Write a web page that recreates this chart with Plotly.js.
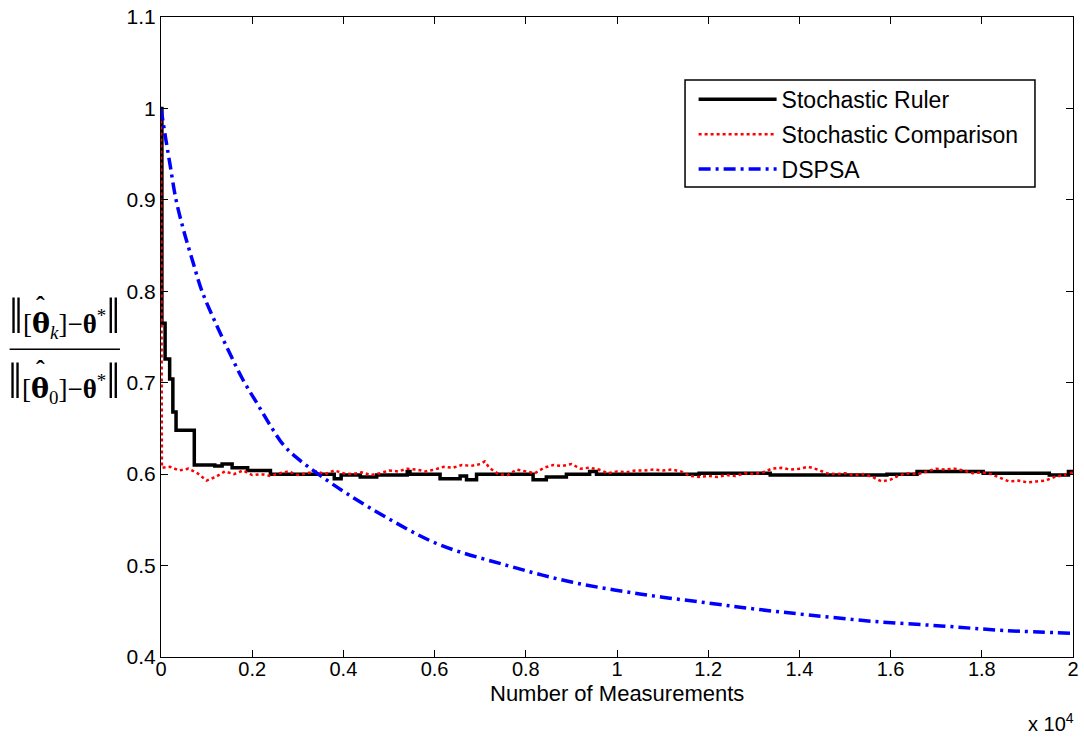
<!DOCTYPE html>
<html>
<head>
<meta charset="utf-8">
<script src="https://cdn.plot.ly/plotly-3.0.1.min.js"></script>
<style>html,body{margin:0;padding:0;background:#fff;}#chart{width:1084px;height:738px;}</style>
</head>
<body>
<div id="chart"></div>
<script>
// ---- data (x = number of measurements) ----
const rulerX = [0, 20, 90, 190, 260, 330, 730, 1180, 1340, 1560, 1900, 2400, 3800, 3950, 4370, 4730, 5400, 5460, 6120, 6560, 6700, 6920, 8160, 8450, 8890, 9400, 9550, 11800, 13360, 15920, 16580, 18030, 19480, 19900, 20000];
const rulerY = [1.0, 0.765, 0.726, 0.704, 0.668, 0.648, 0.610, 0.609, 0.611, 0.607, 0.604, 0.600, 0.595, 0.599, 0.597, 0.599, 0.603, 0.600, 0.595, 0.598, 0.594, 0.600, 0.594, 0.597, 0.600, 0.603, 0.600, 0.601, 0.599, 0.600, 0.603, 0.601, 0.599, 0.603, 0.603];

const compX = [0, 20, 200, 400, 600, 800, 1000, 1200, 1400, 1600, 1800, 2000, 2200, 2400, 2600, 2800, 3000, 3200, 3400, 3600, 3800, 4000, 4200, 4400, 4600, 4800, 5000, 5200, 5400, 5600, 5800, 6000, 6200, 6400, 6600, 6800, 7000, 7100, 7200, 7400, 7600, 7800, 8000, 8200, 8400, 8600, 8800, 9000, 9200, 9400, 9600, 9800, 10000, 10200, 10400, 10600, 10800, 11000, 11200, 11400, 11600, 11800, 12000, 12200, 12400, 12600, 12800, 13000, 13200, 13400, 13600, 13800, 14000, 14200, 14400, 14600, 14800, 15000, 15200, 15400, 15600, 15800, 16000, 16200, 16400, 16600, 16800, 17000, 17200, 17400, 17600, 17800, 18000, 18200, 18400, 18600, 18800, 19000, 19200, 19400, 19600, 19800, 20000];
const compY = [1.0, 0.607, 0.608, 0.604, 0.606, 0.601, 0.593, 0.597, 0.603, 0.600, 0.604, 0.599, 0.600, 0.598, 0.601, 0.603, 0.599, 0.601, 0.603, 0.600, 0.604, 0.601, 0.600, 0.602, 0.599, 0.601, 0.604, 0.603, 0.606, 0.605, 0.603, 0.605, 0.608, 0.607, 0.610, 0.609, 0.611, 0.614, 0.607, 0.600, 0.599, 0.605, 0.603, 0.601, 0.607, 0.610, 0.609, 0.611, 0.606, 0.607, 0.605, 0.601, 0.603, 0.602, 0.604, 0.604, 0.605, 0.604, 0.605, 0.603, 0.598, 0.597, 0.598, 0.597, 0.599, 0.598, 0.601, 0.600, 0.602, 0.606, 0.607, 0.605, 0.606, 0.608, 0.605, 0.601, 0.600, 0.601, 0.599, 0.600, 0.597, 0.592, 0.594, 0.599, 0.601, 0.600, 0.603, 0.606, 0.605, 0.606, 0.604, 0.601, 0.602, 0.600, 0.596, 0.592, 0.593, 0.591, 0.592, 0.593, 0.597, 0.599, 0.602];

const dspsaX = [0, 100, 200, 330, 500, 700, 900, 1200, 1500, 1800, 2100, 2400, 2700, 3000, 3450, 4100, 5000, 6100, 7600, 9000, 10500, 12000, 13100, 14200, 15600, 17100, 18500, 20000];
const dspsaY = [1.0, 0.968, 0.938, 0.900, 0.866, 0.832, 0.800, 0.765, 0.733, 0.703, 0.678, 0.653, 0.631, 0.617, 0.600, 0.578, 0.551, 0.523, 0.500, 0.482, 0.469, 0.459, 0.452, 0.446, 0.439, 0.434, 0.429, 0.426];

const xTickVals = [0, 2000, 4000, 6000, 8000, 10000, 12000, 14000, 16000, 18000, 20000];
const xTickText = ["0", "0.2", "0.4", "0.6", "0.8", "1", "1.2", "1.4", "1.6", "1.8", "2"];
const yTickVals = [0.4, 0.5, 0.6, 0.7, 0.8, 0.9, 1.0, 1.1];
const yTickText = ["0.4", "0.5", "0.6", "0.7", "0.8", "0.9", "1", "1.1"];

const seriesNames = ["Stochastic Ruler", "Stochastic Comparison", "DSPSA"];

const sansFont = "Liberation Sans, Arial, sans-serif";
const serifFont = "Liberation Serif, DejaVu Serif, serif";

const traces = [
  {x: rulerX, y: rulerY, name: seriesNames[0], type: "scatter", mode: "lines", line: {color: "#000000", width: 3.5, shape: "hv"}, legendgroup: "a"},
  {x: compX, y: compY, name: seriesNames[1], type: "scatter", mode: "lines", line: {color: "#ff0000", width: 2.5, dash: "dot"}, legendgroup: "b"},
  {x: dspsaX, y: dspsaY, name: seriesNames[2], type: "scatter", mode: "lines", line: {color: "#0000ff", width: 3.5, dash: "12px,5px,3px,5px", shape: "spline"}, legendgroup: "c"}
];

const theta = "<span style=\"font-family:'DejaVu Serif'\"><b>θ</b></span>";
const bar = "<span style=\"font-size:50px\">‖</span>";

const layout = {
  width: 1084, height: 738,
  margin: {l: 161, r: 11, t: 17, b: 81},
  paper_bgcolor: "#ffffff", plot_bgcolor: "#ffffff",
  showlegend: true,
  legend: {x: 0.584, y: 0.905, xanchor: "left", yanchor: "top", bgcolor: "rgba(0,0,0,0)", borderwidth: 0,
           font: {family: sansFont, size: 23, color: "#000"}, itemwidth: 78, traceorder: "grouped", tracegroupgap: 2},
  xaxis: {range: [0, 20000], tickvals: xTickVals, ticktext: xTickText, ticks: "inside", ticklen: 7, tickcolor: "#000",
          showline: true, linecolor: "#000", linewidth: 1, mirror: "ticks", showgrid: false, zeroline: false,
          tickfont: {family: sansFont, size: 20, color: "#000"}, ticklabelstandoff: -6},
  yaxis: {range: [0.4, 1.1], tickvals: yTickVals, ticktext: yTickText, ticks: "inside", ticklen: 7, tickcolor: "#000",
          showline: true, linecolor: "#000", linewidth: 1, mirror: "ticks", showgrid: false, zeroline: false,
          tickfont: {family: sansFont, size: 21, color: "#000"}},
  shapes: [
    {type: "rect", xref: "paper", yref: "paper", x0: 0.5746, x1: 0.9583, y0: 0.7344, y1: 0.9016, line: {color: "#000", width: 1.5}},
    {type: "line", xref: "paper", yref: "paper", x0: -0.166, x1: -0.045, y0: 0.481, y1: 0.481, line: {color: "#000", width: 1.5}}
  ],
  annotations: [
    {xref: "paper", yref: "paper", x: 0.5, y: -0.057, xanchor: "center", yanchor: "middle", showarrow: false,
     text: "Number of Measurements", font: {family: sansFont, size: 22, color: "#000"}},
    {xref: "paper", yref: "paper", x: 1.003, y: -0.079, xanchor: "right", yanchor: "top", showarrow: false,
     text: "x 10<sup>4</sup>", font: {family: sansFont, size: 20, color: "#000"}},
    {xref: "paper", yref: "paper", x: -0.106, y: 0.533, xanchor: "center", yanchor: "middle", showarrow: false,
     text: bar + "[" + theta + "<sub><i>k</i></sub>]−<b>θ</b><sup>*</sup>" + bar,
     font: {family: serifFont, size: 27, color: "#000"}},
    {xref: "paper", yref: "paper", x: -0.106, y: 0.432, xanchor: "center", yanchor: "middle", showarrow: false,
     text: bar + "[" + theta + "<sub>0</sub>]−<b>θ</b><sup>*</sup>" + bar,
     font: {family: serifFont, size: 27, color: "#000"}},
    {xref: "paper", yref: "paper", x: -0.1322, y: 0.549, xanchor: "center", yanchor: "middle", showarrow: false,
     text: "<b>ˆ</b>", font: {family: serifFont, size: 26, color: "#000"}},
    {xref: "paper", yref: "paper", x: -0.1322, y: 0.449, xanchor: "center", yanchor: "middle", showarrow: false,
     text: "<b>ˆ</b>", font: {family: serifFont, size: 26, color: "#000"}}
  ]
};

Plotly.newPlot("chart", traces, layout, {displayModeBar: false, staticPlot: true});
</script>
</body>
</html>
